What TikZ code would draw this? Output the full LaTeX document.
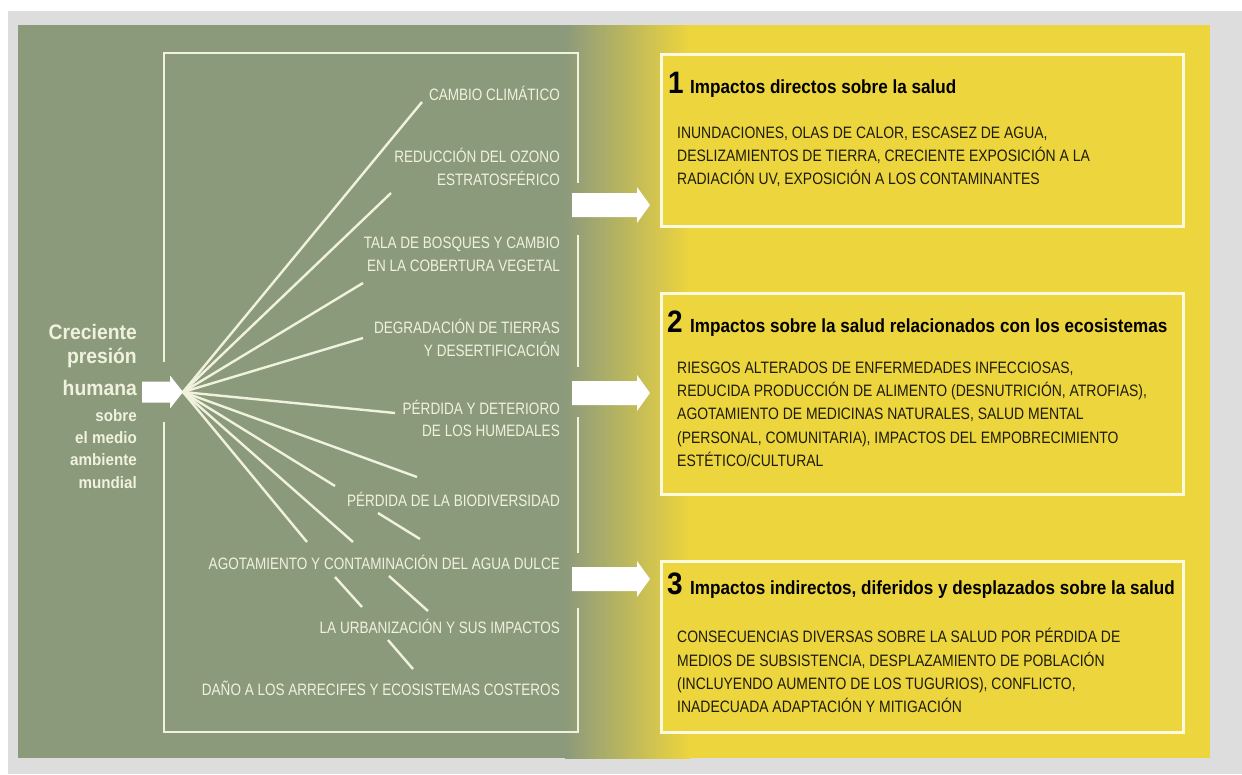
\documentclass[tikz,border=0pt]{standalone}
\usepackage{fontspec}
\setmainfont{Liberation Sans}
\newfontfamily\lblfont[FakeStretch=0.82]{Liberation Sans}
\newfontfamily\bodyfont[FakeStretch=0.845]{Liberation Sans}
\newfontfamily\headfont[FakeStretch=0.9]{Liberation Sans}
\newfontfamily\pressfont[FakeStretch=0.92]{Liberation Sans}
\definecolor{outergray}{RGB}{221,221,221}
\definecolor{panelgreen}{RGB}{140,154,124}
\definecolor{panelyellow}{RGB}{237,213,62}
\definecolor{cream}{RGB}{240,242,222}
\definecolor{boxedge}{RGB}{255,250,222}
\definecolor{darktext}{RGB}{30,28,10}
\tikzset{
  boxline/.style={draw=cream, line width=2.5pt},
  fanline/.style={draw=cream, line width=2.4pt},
  ibox/.style={draw=boxedge, line width=2.5pt, fill=panelyellow, inner sep=0pt, anchor=north west},
  lbl/.style={font=\lblfont\fontsize{16.5}{20}\selectfont, text=cream, anchor=base east, inner sep=0pt},
  body/.style={font=\bodyfont\fontsize{16.5}{20}\selectfont, text=darktext, anchor=base west, inner sep=0pt},
  headnum/.style={font=\headfont\bfseries\fontsize{31}{34}\selectfont, text=black, anchor=base west, inner sep=0pt},
  headtxt/.style={font=\headfont\bfseries\fontsize{19}{22}\selectfont, text=black, anchor=base west, inner sep=0pt},
  pressbig/.style={font=\pressfont\bfseries\fontsize{21}{24}\selectfont, text=cream, anchor=base east, inner sep=0pt},
  presssmall/.style={font=\pressfont\bfseries\fontsize{16.5}{20}\selectfont, text=cream, anchor=base east, inner sep=0pt},
  bigarr/.pic={\fill[white] (0,-12) -- (65,-12) -- (65,-18) -- (78,0) -- (65,18) -- (65,12) -- (0,12) -- cycle;}
}
\begin{document}
\begin{tikzpicture}[x=1pt,y=-1pt]
\useasboundingbox (0,0) rectangle (1242,774);
\fill[white] (0,0) rectangle (1242,774);
\fill[outergray] (8,11) rectangle (1242,774);
\fill[panelgreen] (18,25) rectangle (566,758);
\shade[left color=panelgreen, right color=panelyellow] (565,25) rectangle (690,758);
\fill[panelyellow] (689,25) rectangle (1210,758);

% left frame with gaps
\draw[boxline] (578,183) -- (578,53) -- (164,53) -- (164,362);
\draw[boxline] (164,422) -- (164,732) -- (578,732) -- (578,608);
\draw[boxline] (578,235) -- (578,367);
\draw[boxline] (578,417) -- (578,553);

% right boxes
\node[ibox, minimum width=522pt, minimum height=172pt] (b1) at (660,53) {};
\node[ibox, minimum width=522pt, minimum height=201pt] (b2) at (660,292) {};
\node[ibox, minimum width=522pt, minimum height=171pt] (b3) at (660,560) {};

% arrows
\fill[white] (142,381.5) -- (170,381.5) -- (170,375.5) -- (183,392) -- (170,408.5) -- (170,402.5) -- (142,402.5) -- cycle;
\pic at (572,205) {bigarr};
\pic at (572,393) {bigarr};
\pic at (572,579) {bigarr};

% fan
\coordinate (o) at (183,392);
\coordinate (e1) at (422,102);
\coordinate (e2) at (391,193);
\coordinate (e3) at (363,283);
\coordinate (e4) at (363,338);
\coordinate (e5) at (395,413);
\coordinate (e6) at (417,477);
\coordinate (e7) at (335,486);
\coordinate (e8) at (353,542);
\coordinate (e9) at (307,542);
\foreach \e in {e1,e2,e3,e4,e5,e6,e7,e8,e9} \draw[fanline] (o) -- (\e);
\coordinate (s1a) at (378,513); \coordinate (s1b) at (420,539);
\coordinate (s2a) at (335,577); \coordinate (s2b) at (362,607);
\coordinate (s3a) at (389,576); \coordinate (s3b) at (428,611);
\coordinate (s4a) at (388,640); \coordinate (s4b) at (413,669);
\draw[fanline] (s1a) -- (s1b);
\draw[fanline] (s2a) -- (s2b);
\draw[fanline] (s3a) -- (s3b);
\draw[fanline] (s4a) -- (s4b);

% pressure text
\node[pressbig] (p1) at (137,339) {Creciente};
\node[pressbig] (p2) at (137,363) {presión};
\node[pressbig] (p3) at (137,395) {humana};
\node[presssmall] (p4) at (137,421) {sobre};
\node[presssmall] (p5) at (137,443) {el medio};
\node[presssmall] (p6) at (137,465) {ambiente};
\node[presssmall] (p7) at (137,488) {mundial};

% labels
\node[lbl] (l1) at (560,100) {CAMBIO CLIMÁTICO};
\node[lbl] (l2a) at (560,162) {REDUCCIÓN DEL OZONO};
\node[lbl] (l2b) at (560,185) {ESTRATOSFÉRICO};
\node[lbl] (l3a) at (560,248) {TALA DE BOSQUES Y CAMBIO};
\node[lbl] (l3b) at (560,271) {EN LA COBERTURA VEGETAL};
\node[lbl] (l4a) at (560,333) {DEGRADACIÓN DE TIERRAS};
\node[lbl] (l4b) at (560,356) {Y DESERTIFICACIÓN};
\node[lbl] (l5a) at (560,414) {PÉRDIDA Y DETERIORO};
\node[lbl] (l5b) at (560,436) {DE LOS HUMEDALES};
\node[lbl] (l6) at (560,506) {PÉRDIDA DE LA BIODIVERSIDAD};
\node[lbl] (l7) at (560,569) {AGOTAMIENTO Y CONTAMINACIÓN DEL AGUA DULCE};
\node[lbl] (l8) at (560,633) {LA URBANIZACIÓN Y SUS IMPACTOS};
\node[lbl] (l9) at (560,695) {DAÑO A LOS ARRECIFES Y ECOSISTEMAS COSTEROS};

% box 1
\node[headnum] (n1) at (668,93) {1};
\node[headtxt] (h1) at (690,93) {Impactos directos sobre la salud};
\node[body] (t1a) at (677,138) {INUNDACIONES, OLAS DE CALOR, ESCASEZ DE AGUA,};
\node[body] (t1b) at (677,161) {DESLIZAMIENTOS DE TIERRA, CRECIENTE EXPOSICIÓN A LA};
\node[body] (t1c) at (677,184) {RADIACIÓN UV, EXPOSICIÓN A LOS CONTAMINANTES};

% box 2
\node[headnum] (n2) at (667,332) {2};
\node[headtxt] (h2) at (690,332) {Impactos sobre la salud relacionados con los ecosistemas};
\node[body] (t2a) at (677,373) {RIESGOS ALTERADOS DE ENFERMEDADES INFECCIOSAS,};
\node[body] (t2b) at (677,396) {REDUCIDA PRODUCCIÓN DE ALIMENTO (DESNUTRICIÓN, ATROFIAS),};
\node[body] (t2c) at (677,419) {AGOTAMIENTO DE MEDICINAS NATURALES, SALUD MENTAL};
\node[body] (t2d) at (677,443) {(PERSONAL, COMUNITARIA), IMPACTOS DEL EMPOBRECIMIENTO};
\node[body] (t2e) at (677,466) {ESTÉTICO/CULTURAL};

% box 3
\node[headnum] (n3) at (667,594) {3};
\node[headtxt] (h3) at (690,594) {Impactos indirectos, diferidos y desplazados sobre la salud};
\node[body] (t3a) at (677,642) {CONSECUENCIAS DIVERSAS SOBRE LA SALUD POR PÉRDIDA DE};
\node[body] (t3b) at (677,666) {MEDIOS DE SUBSISTENCIA, DESPLAZAMIENTO DE POBLACIÓN};
\node[body] (t3c) at (677,689) {(INCLUYENDO AUMENTO DE LOS TUGURIOS), CONFLICTO,};
\node[body] (t3d) at (677,712) {INADECUADA ADAPTACIÓN Y MITIGACIÓN};
\end{tikzpicture}
\end{document}
